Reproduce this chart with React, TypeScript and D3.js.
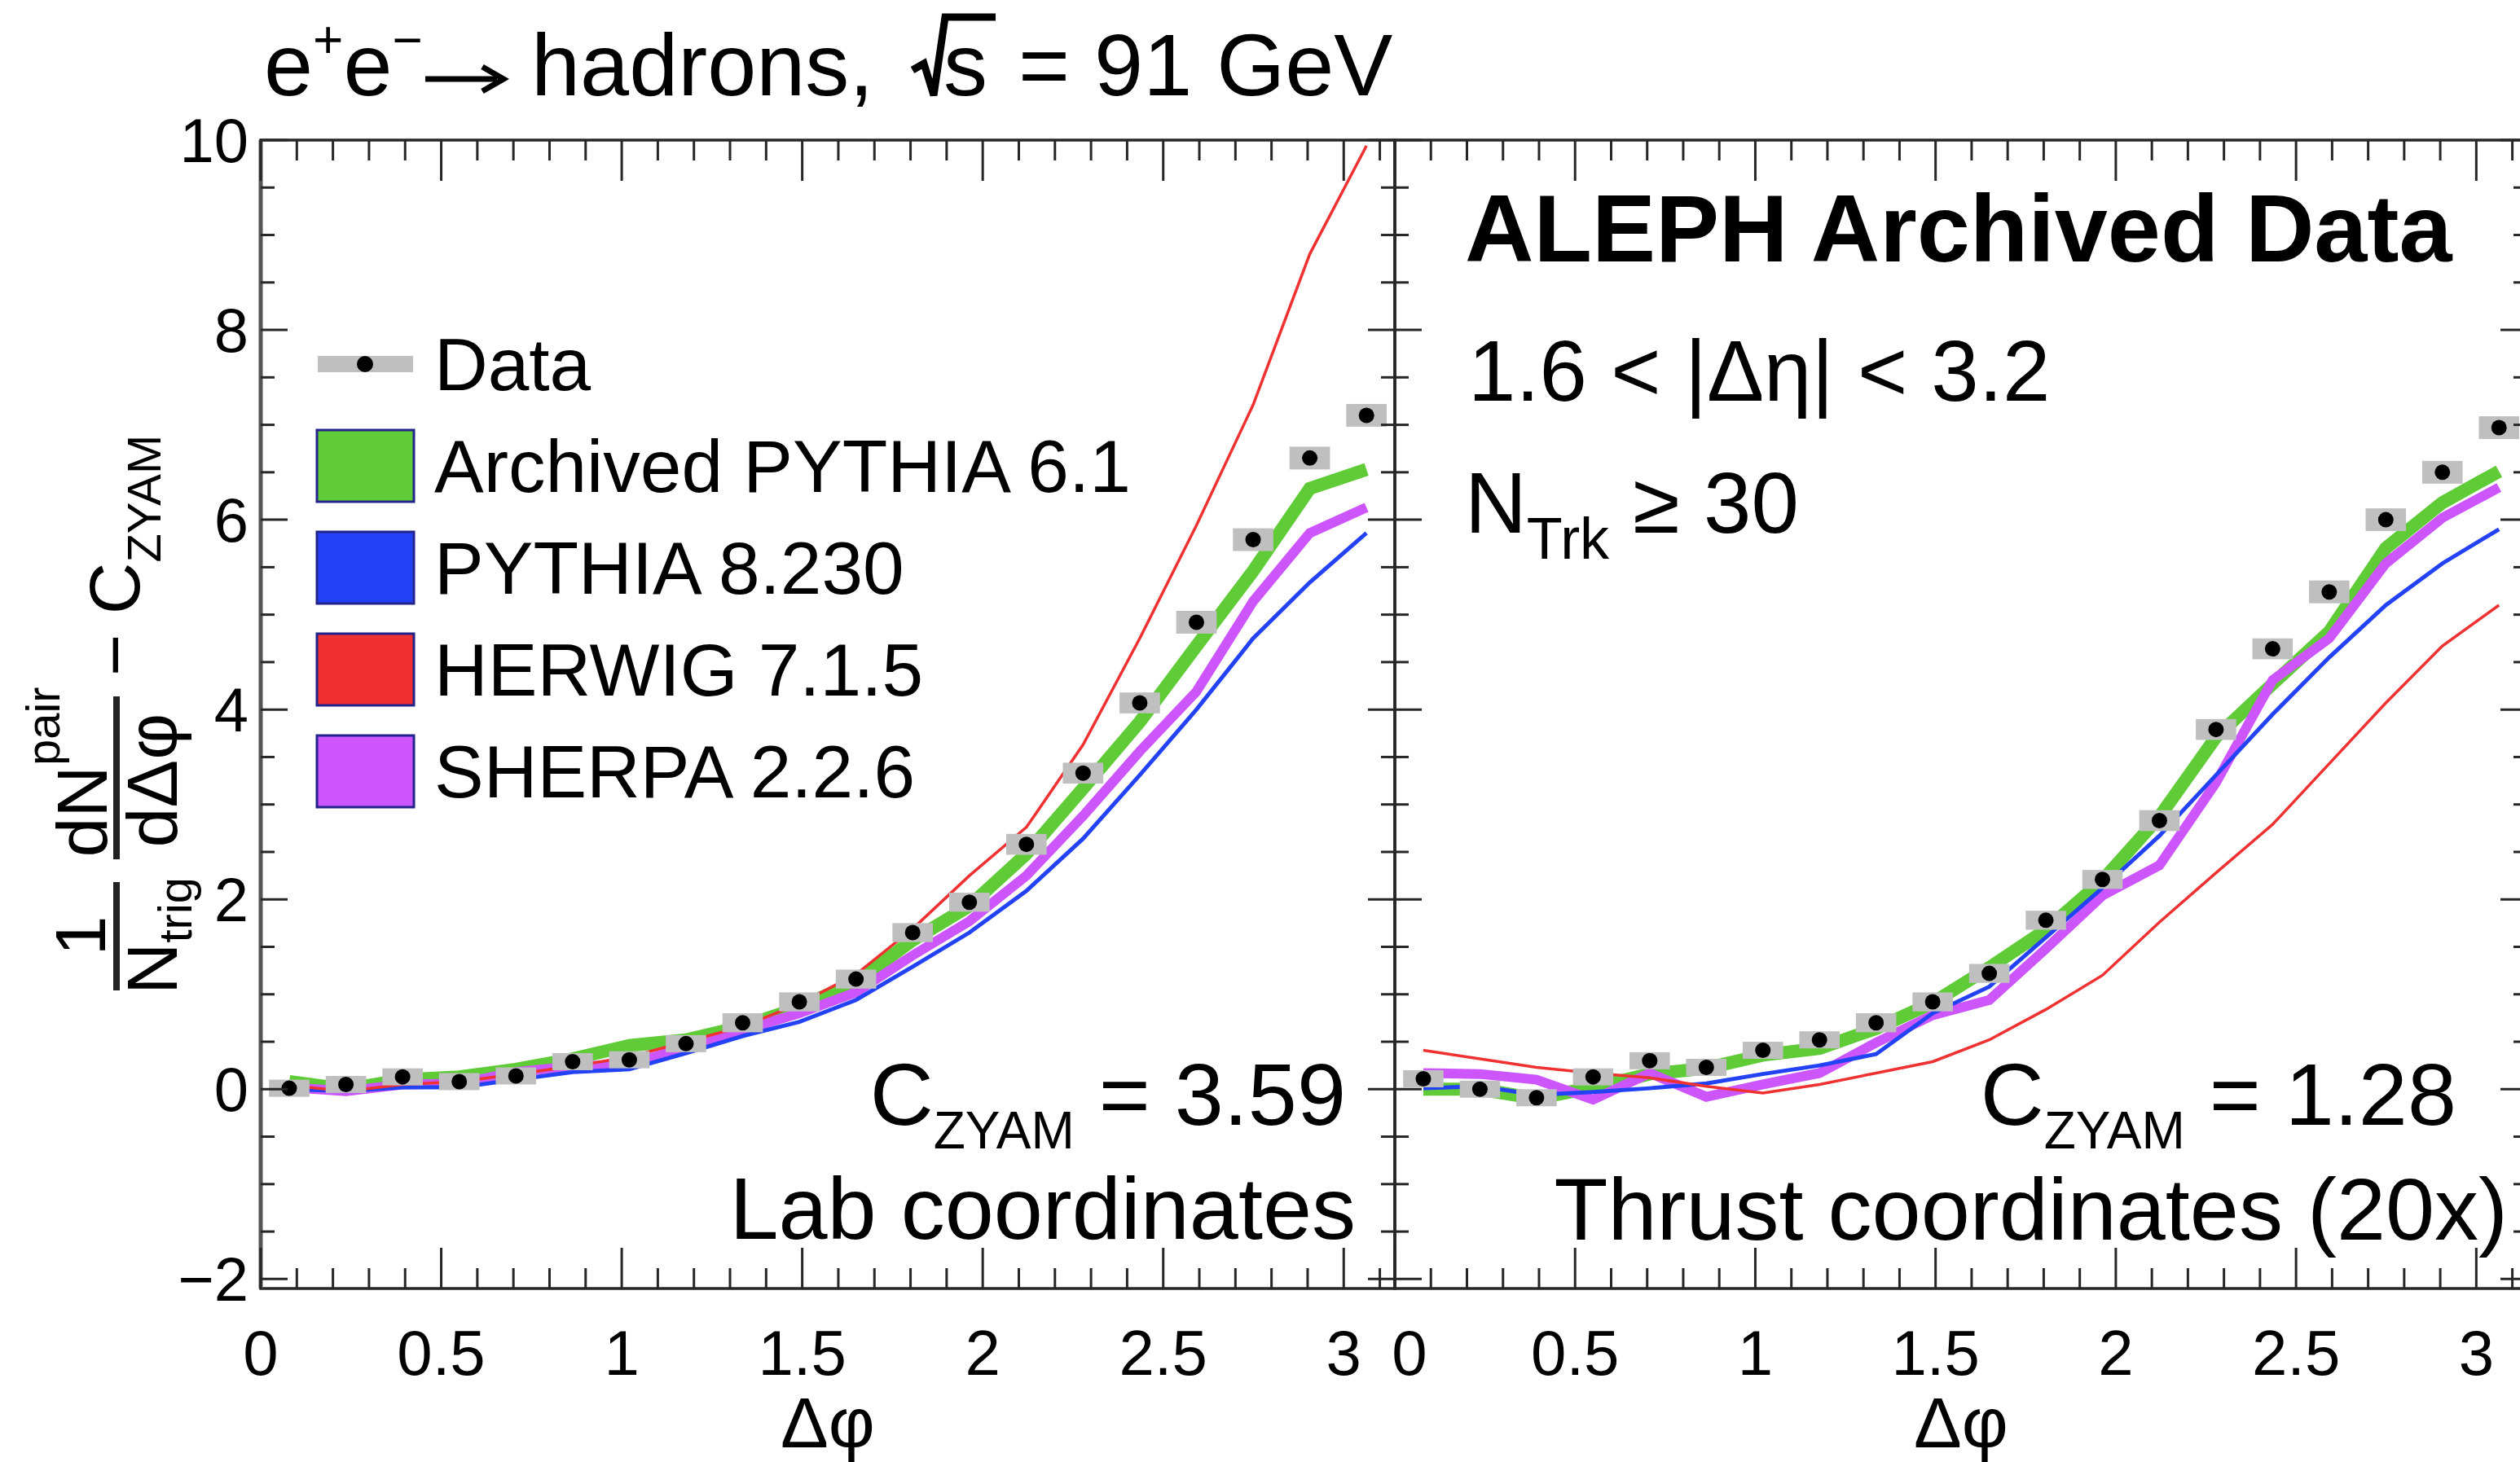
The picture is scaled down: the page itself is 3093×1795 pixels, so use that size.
import React from 'react';
import * as d3 from 'd3';

// ---- data (Δφ bin centres, 20 bins over [0, π]) ----
const dphi = [0.079, 0.236, 0.393, 0.550, 0.707, 0.864, 1.021, 1.178, 1.335, 1.492, 1.649, 1.806, 1.963, 2.121, 2.278, 2.435, 2.592, 2.749, 2.906, 3.063];

// Lab coordinates
const labData = [0.01, 0.05, 0.13, 0.08, 0.14, 0.29, 0.31, 0.48, 0.70, 0.92, 1.16, 1.65, 1.97, 2.58, 3.33, 4.07, 4.92, 5.79, 6.65, 7.10];
const labSys = [0.09, 0.09, 0.09, 0.09, 0.09, 0.09, 0.09, 0.09, 0.1, 0.1, 0.1, 0.1, 0.1, 0.11, 0.11, 0.11, 0.12, 0.12, 0.12, 0.12];
const labPythia6 = [0.08, 0.0, 0.10, 0.13, 0.21, 0.32, 0.46, 0.52, 0.66, 0.86, 1.13, 1.57, 1.93, 2.48, 3.17, 3.87, 4.67, 5.46, 6.33, 6.53];
const labPythia8 = [0.0, -0.02, 0.02, 0.02, 0.10, 0.18, 0.21, 0.38, 0.56, 0.71, 0.94, 1.29, 1.65, 2.09, 2.64, 3.31, 4.00, 4.75, 5.34, 5.86];
const labHerwig = [0.04, -0.02, 0.05, 0.08, 0.16, 0.24, 0.34, 0.50, 0.66, 0.90, 1.21, 1.69, 2.25, 2.76, 3.63, 4.75, 5.94, 7.21, 8.80, 9.94];
const labSherpa = [0.02, -0.02, 0.05, 0.06, 0.18, 0.24, 0.26, 0.44, 0.62, 0.80, 1.02, 1.41, 1.77, 2.25, 2.88, 3.56, 4.19, 5.14, 5.86, 6.13];

// Thrust coordinates
const thrData = [0.11, 0.0, -0.09, 0.13, 0.30, 0.23, 0.41, 0.52, 0.70, 0.92, 1.22, 1.78, 2.21, 2.83, 3.79, 4.64, 5.24, 6.00, 6.50, 6.97];
const thrSys = [0.09, 0.09, 0.09, 0.09, 0.09, 0.09, 0.09, 0.09, 0.1, 0.1, 0.1, 0.1, 0.1, 0.11, 0.11, 0.11, 0.12, 0.12, 0.12, 0.12];
const thrPythia6 = [0.0, 0.0, -0.10, 0.02, 0.16, 0.22, 0.36, 0.43, 0.64, 0.91, 1.28, 1.68, 2.20, 2.87, 3.71, 4.27, 4.82, 5.70, 6.18, 6.51];
const thrPythia8 = [0.01, 0.03, -0.06, -0.03, 0.01, 0.06, 0.16, 0.25, 0.37, 0.80, 1.08, 1.60, 2.12, 2.67, 3.31, 3.95, 4.55, 5.10, 5.54, 5.90];
const thrHerwig = [0.41, 0.32, 0.23, 0.17, 0.12, 0.03, -0.04, 0.05, 0.17, 0.29, 0.52, 0.84, 1.20, 1.76, 2.28, 2.79, 3.43, 4.07, 4.67, 5.10];
const thrSherpa = [0.17, 0.16, 0.10, -0.11, 0.17, -0.08, 0.05, 0.17, 0.49, 0.78, 0.94, 1.48, 2.04, 2.36, 3.23, 4.31, 4.75, 5.54, 6.02, 6.34];

// ticks
const xMajor = [0, 0.5, 1, 1.5, 2, 2.5, 3];
const xMajorLabels = ['0', '0.5', '1', '1.5', '2', '2.5', '3'];
const yMajor = [-2, 0, 2, 4, 6, 8, 10];
const yMajorLabels = ['\u22122', '0', '2', '4', '6', '8', '10'];

const legendNames = ['Data', 'Archived PYTHIA 6.1', 'PYTHIA 8.230', 'HERWIG 7.1.5', 'SHERPA 2.2.6'];

// ---- styles ----
const FONT = "'Liberation Sans', Arial, Helvetica, 'DejaVu Sans', sans-serif";
const C_P6 = '#5fcb37';
const C_P8 = '#2342f6';
const C_HW = '#ef3131';
const C_SH = '#cc55fb';
const C_SYS = '#bfbfbf';
const C_AX = '#262626';

const W = 3093;
const H = 1795;
const TOP = 172;
const BOTTOM = 1582;

const y = d3.scaleLinear().domain([-2.1, 10]).range([BOTTOM, TOP]);

type Series = {
  data: number[]; sys: number[]; p6: number[]; p8: number[]; hw: number[]; sh: number[];
};

function Panel({ id, x0, x1, s, yLabels, zeroShift, leftGray }: { id: string; x0: number; x1: number; s: Series; yLabels: boolean; zeroShift: number; leftGray: boolean }) {
  const x = d3.scaleLinear().domain([0, Math.PI]).range([x0, x1]);
  const line = d3.line<number>().x((_, i) => x(dphi[i])).y((v) => y(v));
  const xMinor = d3.range(0, 3.15, 0.1).filter((v) => Math.abs(v * 2 - Math.round(v * 2)) > 1e-6);
  const yMinor = d3.range(-2, 10.01, 0.5).filter((v) => Math.abs(v / 2 - Math.round(v / 2)) > 1e-6);
  const boxHalf = x(0.056) - x(0);
  return (
    <g>
      <defs>
        <clipPath id={id}>
          <rect x={x0} y={TOP} width={x1 - x0} height={BOTTOM - TOP} />
        </clipPath>
      </defs>
      <g clipPath={`url(#${id})`}>
        <path d={line(s.p6) || ''} fill="none" stroke={C_P6} strokeWidth={16} />
        <path d={line(s.sh) || ''} fill="none" stroke={C_SH} strokeWidth={12} />
        <path d={line(s.p8) || ''} fill="none" stroke={C_P8} strokeWidth={5} />
        <path d={line(s.hw) || ''} fill="none" stroke={C_HW} strokeWidth={3.5} />
        {s.data.map((v, i) => (
          <rect key={`b${i}`} x={x(dphi[i]) - boxHalf} y={y(v + s.sys[i])} width={2 * boxHalf}
            height={y(v - s.sys[i]) - y(v + s.sys[i])} fill={C_SYS} />
        ))}
        {s.data.map((v, i) => (
          <circle key={`p${i}`} cx={x(dphi[i])} cy={y(v)} r={9.5} fill="#000" />
        ))}
      </g>
      {/* frame */}
      <rect x={x0} y={TOP} width={x1 - x0} height={BOTTOM - TOP} fill="none" stroke={C_AX} strokeWidth={3.5} />
      {leftGray && <line x1={x0} x2={x0} y1={TOP} y2={BOTTOM} stroke="#555" strokeWidth={5} />}
      {/* x ticks bottom & top */}
      {xMajor.map((v) => (
        <g key={`xm${v}`}>
          <line x1={x(v)} x2={x(v)} y1={BOTTOM} y2={BOTTOM - 50} stroke={C_AX} strokeWidth={3} />
          <line x1={x(v)} x2={x(v)} y1={TOP} y2={TOP + 50} stroke={C_AX} strokeWidth={3} />
        </g>
      ))}
      {xMinor.map((v) => (
        <g key={`xn${v}`}>
          <line x1={x(v)} x2={x(v)} y1={BOTTOM} y2={BOTTOM - 25} stroke={C_AX} strokeWidth={3} />
          <line x1={x(v)} x2={x(v)} y1={TOP} y2={TOP + 25} stroke={C_AX} strokeWidth={3} />
        </g>
      ))}
      {/* y ticks left & right */}
      {yMajor.map((v) => (
        <g key={`ym${v}`}>
          <line x1={x0} x2={x0 + 33} y1={y(v)} y2={y(v)} stroke={C_AX} strokeWidth={3} />
          <line x1={x1} x2={x1 - 33} y1={y(v)} y2={y(v)} stroke={C_AX} strokeWidth={3} />
        </g>
      ))}
      {yMinor.map((v) => (
        <g key={`yn${v}`}>
          <line x1={x0} x2={x0 + 17} y1={y(v)} y2={y(v)} stroke={C_AX} strokeWidth={3} />
          <line x1={x1} x2={x1 - 17} y1={y(v)} y2={y(v)} stroke={C_AX} strokeWidth={3} />
        </g>
      ))}
      {/* x tick labels */}
      {xMajor.map((v, i) => (
        <text key={`xl${v}`} x={x(v) + (v === 0 ? zeroShift : 0)} y={1688} textAnchor="middle" fontSize={78} fontFamily={FONT} fill="#000">
          {xMajorLabels[i]}
        </text>
      ))}
      {yLabels && yMajor.map((v, i) => (
        <text key={`yl${v}`} x={x0 - 15} y={y(v) + 27} textAnchor="end" fontSize={76} fontFamily={FONT} fill="#000">
          {yMajorLabels[i]}
        </text>
      ))}
      {/* x axis title */}
      <text x={(x0 + x1) / 2} y={1777} textAnchor="middle" fontSize={88} fontFamily={FONT} fill="#000">Δφ</text>
    </g>
  );
}

export default function App() {
  const lab: Series = { data: labData, sys: labSys, p6: labPythia6, p8: labPythia8, hw: labHerwig, sh: labSherpa };
  const thr: Series = { data: thrData, sys: thrSys, p6: thrPythia6, p8: thrPythia8, hw: thrHerwig, sh: thrSherpa };
  const legendColors = [null, C_P6, C_P8, C_HW, C_SH];
  const legendRowY = [447, 572, 697, 822, 947];
  return (
    <svg width={W} height={H} viewBox={`0 0 ${W} ${H}`} style={{ position: 'absolute', left: 0, top: 0, background: '#fff' }}
      fontFamily={FONT}>
      <rect x={0} y={0} width={W} height={H} fill="#fff" />
      <Panel id="clipL" x0={320} x1={1712} s={lab} yLabels={true} zeroShift={0} leftGray={true} />
      <Panel id="clipR" x0={1712} x1={3102} s={thr} yLabels={false} zeroShift={18} leftGray={false} />

      {/* title */}
      <g fontSize={108} fill="#000">
        <text x={324} y={117}>e<tspan fontSize={64} dy={-46}>+</tspan><tspan dy={46}>e</tspan><tspan fontSize={64} dy={-46}>−</tspan></text>
        <path d="M522,97 H610" fill="none" stroke="#000" strokeWidth={7} />
        <path d="M592,82 L618,97 L592,112" fill="none" stroke="#000" strokeWidth={7} strokeLinejoin="miter" />
        <text x={652} y={117}>hadrons,</text>
        <path d="M1120,86 L1134,78 L1146,117 L1160,21 L1222,21" fill="none" stroke="#000" strokeWidth={9} strokeLinejoin="miter" />
        <text x={1158} y={117}>s</text>
        <text x={1250} y={117}>= 91 GeV</text>
      </g>

      {/* y axis title */}
      <g transform="translate(143,878) rotate(-90)" fill="#000" fontSize={88}>
        <text x={-271} y={-14} textAnchor="middle">1</text>
        <line x1={-338} x2={-205} y1={0} y2={0} stroke="#222" strokeWidth={8} />
        <text x={-271} y={74} textAnchor="middle">N<tspan fontSize={58} dy={18}>trig</tspan></text>
        <text x={-70} y={-12} textAnchor="middle">dN<tspan fontSize={58} dy={-58}>pair</tspan></text>
        <line x1={-177} x2={23} y1={0} y2={0} stroke="#222" strokeWidth={8} />
        <text x={-80} y={74} textAnchor="middle">dΔφ</text>
        <text x={48} y={28}>− C<tspan fontSize={58} dy={26}>ZYAM</tspan></text>
      </g>

      {/* legend */}
      {legendNames.map((name, i) => {
        const cy = legendRowY[i];
        const col = legendColors[i];
        return (
          <g key={name}>
            {col ? (
              <rect x={389} y={cy - 44} width={119} height={88} fill={col} stroke="#23238c" strokeWidth={3} />
            ) : (
              <g>
                <rect x={390} y={cy - 10} width={117} height={20} fill={C_SYS} />
                <circle cx={448} cy={cy} r={10} fill="#000" />
              </g>
            )}
            <text x={533} y={cy + 32} fontSize={91} fill="#000">{name}</text>
          </g>
        );
      })}

      {/* right panel annotations */}
      <text x={1798} y={321} fontSize={117} fontWeight="bold" fill="#000">ALEPH Archived Data</text>
      <text x={1802} y={492} fontSize={105} fill="#000">1.6 &lt; |Δη| &lt; 3.2</text>
      <text x={1798} y={654} fontSize={105} fill="#000">N<tspan fontSize={72} dy={32}>Trk</tspan><tspan dy={-32}> ≥ 30</tspan></text>

      {/* C_ZYAM and coordinate labels */}
      <text x={1652} y={1381} textAnchor="end" fontSize={108} fill="#000">C<tspan fontSize={64} dy={29}>ZYAM</tspan><tspan dy={-29}> = 3.59</tspan></text>
      <text x={1664} y={1521} textAnchor="end" fontSize={108} fill="#000">Lab coordinates</text>
      <text x={3015} y={1381} textAnchor="end" fontSize={108} fill="#000">C<tspan fontSize={64} dy={29}>ZYAM</tspan><tspan dy={-29}> = 1.28</tspan></text>
      <text x={3078} y={1522} textAnchor="end" fontSize={108} fill="#000">Thrust coordinates (20x)</text>
    </svg>
  );
}
